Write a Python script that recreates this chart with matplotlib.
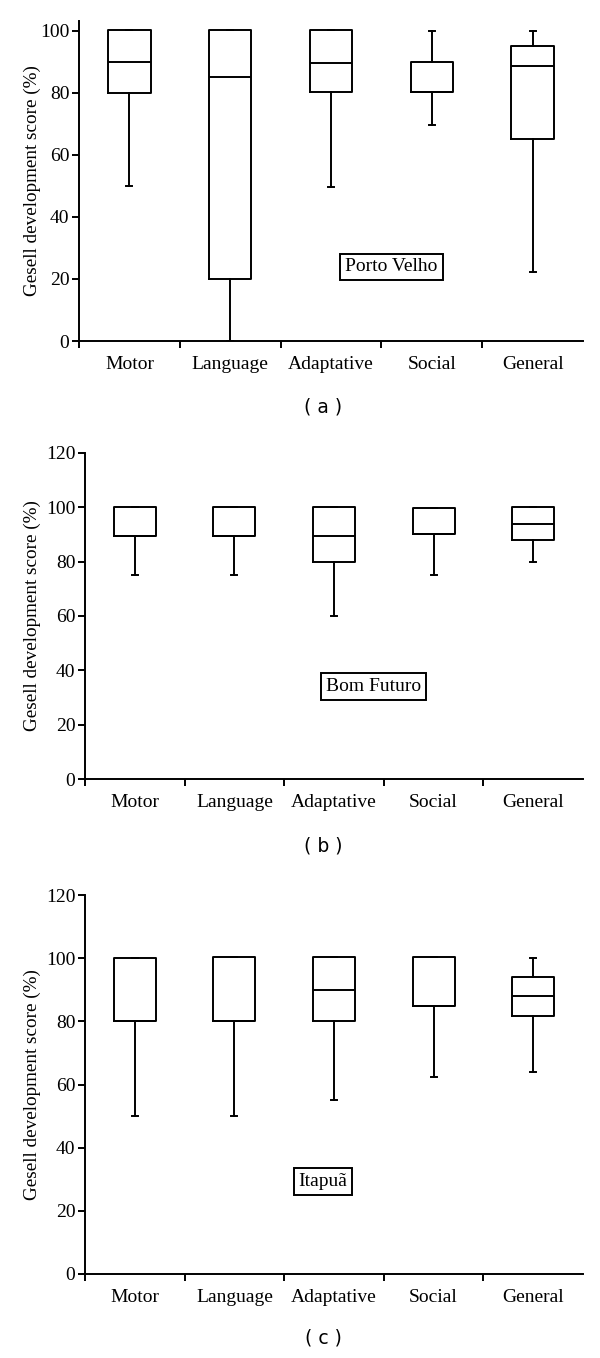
import matplotlib
matplotlib.use("Agg")
import matplotlib.pyplot as plt

categories = ["Motor", "Language", "Adaptative", "Social", "General"]

# Porto Velho
pv_whislo = [50, 0, 49.6, 69.8, 22.4]
pv_q1 = [80, 20, 80.3, 80.4, 65]
pv_med = [90, 85, 89.8, 80.4, 88.8]
pv_q3 = [100.3, 100.3, 100.2, 90.1, 95]
pv_whishi = [100.3, 100.3, 100.2, 100, 100]

# Bom Futuro
bf_whislo = [75, 75, 60, 75, 80]
bf_q1 = [89.5, 89.5, 80, 90, 88]
bf_med = [89.5, 89.5, 89.6, 90, 93.8]
bf_q3 = [100.3, 100.3, 100.3, 99.8, 100]
bf_whishi = [100.3, 100.3, 100.3, 99.8, 100]

# Itapuã
it_whislo = [50, 50, 55, 62.4, 64]
it_q1 = [80, 80, 80, 84.7, 81.8]
it_med = [80, 80, 90, 84.7, 88]
it_q3 = [100, 100.4, 100.4, 100.4, 94]
it_whishi = [100, 100.4, 100.4, 100.4, 100]

panels = [
    ("Porto Velho", pv_whislo, pv_q1, pv_med, pv_q3, pv_whishi, (0, 103.2), [0, 20, 40, 60, 80, 100], (2.60, 23.9), "( a )"),
    ("Bom Futuro", bf_whislo, bf_q1, bf_med, bf_q3, bf_whishi, (0, 120), [0, 20, 40, 60, 80, 100, 120], (2.40, 34.0), "( b )"),
    ("Itapuã", it_whislo, it_q1, it_med, it_q3, it_whishi, (0, 120), [0, 20, 40, 60, 80, 100, 120], (1.89, 29.3), "( c )"),
]

W, H = 600, 1358
fig = plt.figure(figsize=(W / 100, H / 100), dpi=100)

# axes rectangles in pixels: left, top, right, bottom
rects = [(79, 21, 583, 341), (85, 453, 583, 779), (85, 895, 583, 1274)]
letter_y = [407, 846, 1338]

serif = "Liberation Serif"
sans = "DejaVu Sans"
lw = 1.4

for (name, lo, q1, med, q3, hi, ylim, yticks, lblpos, letter), (l, t, r, b), ly in zip(panels, rects, letter_y):
    ax = fig.add_axes([l / W, 1 - b / H, (r - l) / W, (b - t) / H])
    stats = []
    for i, c in enumerate(categories):
        stats.append(dict(label=c, whislo=lo[i], q1=q1[i], med=med[i], q3=q3[i], whishi=hi[i], fliers=[]))
    ax.bxp(stats, positions=range(len(categories)), widths=0.42, showfliers=False,
           boxprops=dict(color="black", linewidth=lw),
           medianprops=dict(color="black", linewidth=lw),
           whiskerprops=dict(color="black", linewidth=lw),
           capprops=dict(color="black", linewidth=lw),
           capwidths=0.06)
    ax.set_xlim(-0.5, 4.5)
    ax.set_ylim(*ylim)
    ax.set_yticks(yticks)
    ax.set_yticklabels([str(v) for v in yticks], fontfamily=serif, fontsize=14)
    ax.set_xticks([-0.5, 0.5, 1.5, 2.5, 3.5])
    ax.set_xticklabels([])
    ax.set_xticks(range(len(categories)), minor=True)
    ax.set_xticklabels(categories, minor=True, fontfamily=serif, fontsize=14)
    ax.tick_params(axis="x", which="minor", length=0, pad=11)
    ax.tick_params(axis="x", which="major", length=5, width=lw, direction="out")
    ax.tick_params(axis="y", length=5, width=lw, direction="out", pad=2)
    for s in ["top", "right"]:
        ax.spines[s].set_visible(False)
    for s in ["left", "bottom"]:
        ax.spines[s].set_linewidth(lw)
    fig.text(32 / W, 1 - ((t + b) / 2) / H, "Gesell development score (%)", fontfamily=serif,
             fontsize=13.8, rotation=90, ha="center", va="center")
    ax.text(lblpos[0], lblpos[1], name, fontfamily=serif, fontsize=14, ha="center", va="center",
            bbox=dict(boxstyle="square,pad=0.25", facecolor="white", edgecolor="black", linewidth=lw))
    fig.text(323 / W, 1 - ly / H, letter, fontfamily=sans, fontsize=13.5, ha="center", va="center")

fig.savefig("out.png", dpi=100)
